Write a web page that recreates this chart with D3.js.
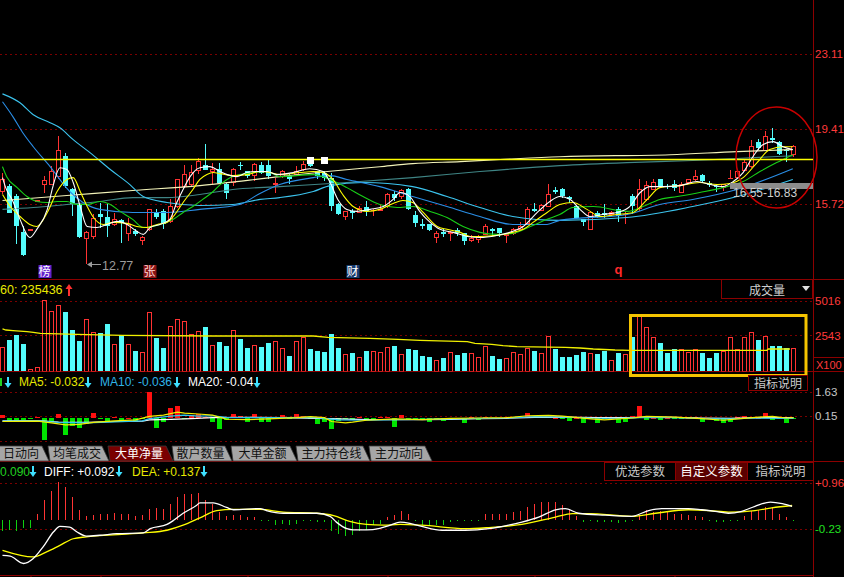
<!DOCTYPE html>
<html><head><meta charset="utf-8">
<script src="https://cdn.jsdelivr.net/npm/d3@7"></script>
<style>
html,body{margin:0;padding:0;background:#000;overflow:hidden}
svg{display:block}
text{font-family:"Liberation Sans",Arial,sans-serif}
.cjk{font-family:"Noto Sans CJK SC","Noto Sans",sans-serif}
</style></head><body>
<svg id="c" width="844" height="577"></svg>
<script>
// ---------------- DATA ----------------
const opens = [
16.37,16.61,16.12,14.36,14.47,15.89,16.73,16.73,17.10,18.08,
16.48,15.67,14.08,14.17,15.23,15.11,14.77,14.95,14.33,14.41,
13.97,14.49,15.31,15.39,14.90,15.63,16.61,16.70,17.43,17.63,
17.35,17.46,16.74,16.83,17.64,17.35,17.15,17.63,17.63,16.73,
17.10,17.10,17.19,17.46,17.79,17.35,17.27,17.02,15.72,15.14,
15.39,15.34,15.60,15.43,15.44,15.63,16.25,16.12,16.48,15.18,
14.74,14.74,14.13,14.36,14.30,14.44,14.30,13.95,14.00,14.25,
14.52,14.57,14.20,14.33,14.49,14.79,15.47,15.44,15.63,16.42,
16.48,16.07,15.63,14.98,14.52,15.31,15.31,15.23,15.50,15.22,
16.12,15.55,15.96,16.48,16.94,16.60,16.70,16.32,16.81,16.94,
17.14,16.78,16.60,16.58,17.01,17.07,17.43,17.59,18.77,18.38,
18.98,18.77,18.41,18.17];
const highs = [
17.27,16.70,16.21,14.65,14.52,15.93,17.10,17.59,19.06,18.25,
16.53,15.72,14.41,15.23,15.77,15.72,15.31,14.98,15.06,14.49,
14.17,15.50,15.47,15.47,15.96,16.97,17.67,17.67,18.00,18.70,
17.76,17.76,16.78,17.51,17.79,17.38,17.76,17.79,17.95,17.02,
17.43,17.19,17.59,17.84,17.84,17.35,17.35,17.27,15.77,15.39,
15.50,15.63,15.88,15.50,15.72,16.29,16.37,16.45,16.53,15.39,
14.98,14.74,14.41,14.49,14.41,14.57,14.30,14.20,14.20,14.74,
14.57,14.57,14.33,14.57,14.85,15.60,15.77,15.72,16.74,16.58,
16.53,16.12,15.67,14.98,15.39,15.39,15.72,15.39,15.60,15.39,
16.21,16.94,16.86,16.94,16.97,16.70,16.91,16.81,16.97,17.40,
17.19,16.86,16.70,16.70,17.43,17.43,17.92,18.90,18.93,19.31,
19.47,18.82,18.44,18.65];
const lows = [
16.21,15.27,13.76,13.18,14.45,15.88,16.29,16.70,16.94,16.53,
15.14,14.08,12.77,14.00,14.57,14.13,14.65,13.84,13.92,14.17,
13.72,14.41,15.01,14.52,14.82,15.55,16.53,16.61,17.19,17.40,
16.70,16.70,15.96,16.61,17.43,17.02,16.86,17.19,16.97,16.29,
17.02,16.70,17.10,17.35,17.56,16.97,16.86,15.39,15.18,14.95,
15.01,15.27,15.14,15.14,15.39,15.55,15.88,15.96,15.42,14.61,
14.49,14.41,13.84,14.13,13.92,14.17,13.72,13.89,13.84,14.20,
14.17,14.13,13.84,14.20,14.46,14.74,15.34,15.39,15.60,16.24,
16.04,15.80,15.01,14.65,14.49,15.06,15.06,15.14,14.85,14.74,
15.23,15.39,15.88,16.42,16.53,16.45,16.37,16.29,16.74,16.86,
16.81,16.58,16.32,16.37,16.94,17.02,17.35,17.51,18.41,18.33,
18.74,18.12,17.79,18.05];
const closes = [
16.97,15.31,14.65,13.22,14.49,15.91,16.91,17.35,18.41,16.61,
15.72,14.12,14.36,15.06,15.11,14.65,15.01,14.79,14.74,14.25,
14.12,15.47,15.11,14.74,15.63,16.94,17.19,17.30,17.84,17.43,
17.46,16.78,16.29,17.46,17.62,17.10,17.72,17.27,17.10,16.78,
17.35,16.94,17.35,17.72,17.59,17.10,17.02,15.63,15.23,15.39,
15.31,15.55,15.39,15.44,15.50,16.25,16.04,16.40,15.47,14.82,
14.65,14.46,14.33,14.25,14.36,14.33,13.92,14.08,14.13,14.65,
14.41,14.33,14.25,14.49,14.65,15.50,15.39,15.67,16.24,16.32,
16.12,15.96,15.06,14.85,15.34,15.11,15.18,15.34,15.14,15.23,
15.63,16.48,16.65,16.81,16.58,16.58,16.53,16.74,16.94,17.10,
16.86,16.65,16.58,16.70,17.02,17.35,17.79,18.57,18.49,19.10,
18.87,18.17,18.33,18.57];
// moving averages: [bar index, price]
const ma5 = [[0,17.03],[0.4,16.59],[1.5,15.86],[2.5,14.98],[3.9,14.09],[4.9,14.49],[6.4,15.47],[7.2,16.59],[8.2,17.52],[9.2,17.43],[10.1,16.79],[11.1,15.61],[12.1,14.63],[13.5,14.58],[14.9,14.73],[16.4,14.88],[17.8,14.73],[19.2,14.39],[20.1,14.24],[21.1,14.58],[22.5,14.73],[23.9,14.98],[24.9,15.81],[25.8,16.45],[26.8,17.08],[28.2,17.52],[29.6,17.57],[31.1,17.33],[32.1,17.18],[33.5,17.08],[34.9,17.28],[36.4,17.33],[37.8,17.33],[39.2,17.18],[41.5,17.28],[43.9,17.47],[45.8,17.33],[46.8,16.79],[47.9,15.96],[49.2,15.47],[50.6,15.37],[52.5,15.47],[54.4,15.61],[55.8,15.96],[56.8,16.30],[58.2,16.10],[59.6,15.37],[61.1,14.83],[62.5,14.49],[64.4,14.34],[66.4,14.14],[68.2,14.09],[70.6,14.19],[72.9,14.39],[74.4,14.63],[76.4,15.32],[78.2,15.86],[79.6,16.10],[81.1,15.96],[82.5,15.47],[83.9,15.12],[85.8,15.22],[87.8,15.32],[89.6,15.61],[91.1,16.30],[92.5,16.59],[94.4,16.59],[96.8,16.64],[99.2,16.84],[101.1,16.69],[102.9,16.59],[104.4,16.84],[105.8,17.28],[107.2,18.06],[108.6,18.65],[110.1,18.80],[111.5,18.55],[112.9,18.41]];
const ma10 = [[0,16.20],[1.1,15.61],[2.5,15.12],[3.9,14.73],[4.9,14.63],[6.4,15.32],[7.8,16.35],[9.2,16.94],[10.1,17.03],[11.1,16.35],[12.1,15.61],[12.9,15.12],[14.4,14.73],[15.8,14.83],[17.8,14.78],[19.2,14.63],[20.6,14.58],[22.1,14.73],[23.5,14.83],[24.4,15.12],[25.8,15.81],[27.2,16.45],[28.2,16.94],[29.2,17.18],[30.1,17.28],[31.1,17.23],[32.9,17.13],[34.9,17.18],[36.8,17.33],[38.2,17.28],[39.6,17.18],[42.5,17.28],[44.4,17.33],[45.8,17.28],[47.2,16.94],[48.6,16.20],[50.1,15.61],[52.1,15.37],[53.9,15.47],[55.8,15.76],[57.2,15.91],[58.6,15.81],[60.1,15.32],[62.1,14.63],[63.5,14.49],[65.4,14.34],[66.8,14.14],[68.2,14.14],[70.6,14.19],[72.9,14.34],[74.4,14.49],[75.8,14.83],[77.8,15.32],[79.6,15.71],[81.5,15.81],[83.5,15.47],[85.4,15.12],[87.8,15.22],[90.1,15.32],[92.1,15.96],[93.9,16.54],[96.8,16.64],[99.6,16.79],[102.1,16.69],[103.9,16.74],[105.8,17.03],[107.8,17.77],[109.6,18.41],[111.5,18.55],[112.9,18.55]];
const ma20 = [[0,17.57],[0.6,17.08],[2.1,16.54],[3.5,16.10],[4.9,15.86],[6.4,15.81],[7.8,15.86],[9.2,15.86],[10.6,15.71],[12.1,15.71],[13.9,15.86],[15.4,15.71],[16.8,15.37],[18.6,14.98],[20.1,14.58],[21.5,14.63],[22.9,14.78],[24.4,14.98],[25.8,15.32],[27.2,15.61],[28.6,15.96],[30.1,16.35],[31.1,16.69],[32.5,17.03],[33.9,17.18],[35.8,17.28],[37.8,17.33],[39.6,17.08],[44.4,17.18],[46.8,16.94],[49.2,16.54],[51.5,16.10],[53.9,15.71],[56.4,15.56],[58.6,15.61],[61.1,15.37],[63.5,15.07],[65.8,14.63],[68.2,14.34],[70.6,14.24],[72.9,14.29],[75.4,14.63],[77.8,14.98],[79.6,15.22],[81.5,15.56],[84.4,15.61],[89.2,15.37],[91.5,15.61],[93.9,15.96],[96.4,16.10],[99.6,16.30],[103.5,16.59],[105.8,16.84],[108.2,17.33],[110.6,17.77],[112.9,18.16]];
const ma30 = [[0,20.76],[1.5,20.02],[2.9,19.24],[4.4,18.55],[6.8,17.57],[9.6,16.35],[11.5,15.81],[13.9,15.47],[18.6,15.32],[23.5,15.32],[28.2,15.47],[33.9,15.71],[36.5,16.20],[39.6,16.69],[44.4,17.03],[46.8,17.13],[49.2,16.94],[53.9,16.59],[58.6,16.10],[63.5,15.61],[68.2,15.12],[72.9,14.73],[77.8,14.73],[79.6,14.93],[89.2,15.22],[93.9,15.71],[98.6,15.96],[104.9,16.45],[112.9,17.47]];
const ma60 = [[0,21.15],[2.5,20.71],[4.4,20.12],[6.8,19.73],[8.2,19.48],[10.1,18.90],[12.5,18.26],[15.4,17.43],[18.2,16.69],[20.1,16.10],[23.5,15.81],[28.2,15.66],[32.9,15.71],[36.8,15.96],[39.6,16.05],[44.4,16.35],[46.8,16.64],[51.5,16.79],[58.6,16.59],[63.5,16.10],[68.2,15.56],[72.9,15.12],[79.6,14.93],[89.2,15.07],[98.6,15.61],[104.4,16.05],[112.9,16.94]];
const ma120 = [[0,15.47],[4.4,15.56],[9.2,15.71],[13.9,15.86],[18.6,16.05],[23.5,16.05],[28.2,16.20],[32.9,16.45],[39.6,16.59],[49.2,16.79],[58.6,17.03],[68.2,17.33],[79.6,17.62],[89.2,17.77],[98.6,17.87],[104.9,17.97],[112.9,18.11]];
const ma250 = [[0,15.91],[9.2,16.15],[18.6,16.40],[28.2,16.64],[39.6,17.08],[46.4,17.33],[53.9,17.57],[58.6,17.72],[65.4,17.82],[71.1,17.92],[79.6,18.06],[95.4,18.16],[104.9,18.31],[112.9,18.41]];
const trendLevel = 17.92;
const priceTicks = [23.11, 19.41, 15.72];
const lowLabel = {i: 12, text: "12.77"};
const zoneLabel = "16.55-16.83";
const zoneRange = [16.55, 16.83];
const markers = [{i:6, t:"榜"}, {i:21, t:"张"}, {i:50, t:"财"}, {i:88, t:"q"}];
const whiteMarks = [[44, 17.92], [46, 17.92]];

// volume (x100)
const volumes = [
1737,2212,2569,1926,119,262,5040,4281,4686,4210,
2925,2141,3686,2759,2711,3330,1902,2545,1902,1427,
1332,4186,2355,1641,3187,3686,3544,2616,2830,3116,
1831,2045,1784,2902,2283,1641,1831,1712,1998,2117,
1617,1070,2117,2402,1570,1427,1356,2640,1641,1189,
1284,999,1427,1403,1356,1712,1784,1189,1570,1498,
1070,999,785,928,1356,1142,1284,1284,999,1784,
1070,856,928,1332,1213,1641,1427,1284,2497,1570,
999,999,1142,1356,1284,1213,1427,785,1284,1213,
2426,3996,3163,2402,1974,1284,1570,1570,1380,1570,
1284,928,1284,1427,2402,1570,2402,2759,2212,2497,
1784,1784,1641,1641];
const volMA = [[0,2997],[0.5,2925],[1.5,2878],[3.5,2806],[4.4,2759],[5.4,2688],[10.6,2616],[17.2,2545],[30,2497],[44.4,2497],[46.5,2402],[52.5,2331],[56.5,2259],[59.6,2188],[66.4,2093],[67.5,1974],[69.9,1903],[71.5,1808],[73.5,1736],[80.4,1689],[82.5,1641],[84.4,1570],[87.5,1498],[89.6,1475],[109.2,1475],[109.4,1570],[112.5,1570]];
const volTicks = [5016, 2543];
const volHeader = "60: 235436";

// 大单净量 indicator
const netBig = [
0.16,-0.20,-0.20,-0.14,-0.06,0.04,-1.41,-0.24,0.22,-1.05,
-0.48,-0.60,-0.40,0.34,-0.06,-0.24,0.04,-0.20,0.02,-0.20,
-0.06,1.63,-0.60,-0.28,0.64,0.76,-0.04,0.20,0.28,0.08,
-0.24,-0.68,-0.14,0.22,0.10,-0.28,0.22,-0.28,-0.28,-0.06,
0.16,-0.04,0.28,0.10,-0.04,-0.36,-0.28,-0.72,-0.20,-0.06,
-0.14,0.04,-0.12,-0.08,0.04,0.04,-0.54,0.16,-0.06,-0.06,
-0.10,-0.26,-0.04,-0.16,-0.14,-0.04,-0.30,0.08,-0.14,0.04,
-0.04,-0.04,0.04,0.08,0.04,0.34,0.04,0.06,0.06,0.02,
-0.04,-0.20,0.02,-0.30,-0.04,-0.30,-0.04,0.02,-0.30,-0.26,
0.10,0.74,-0.12,0.02,-0.12,0.02,-0.02,-0.02,0.02,0.08,
-0.26,0.02,-0.16,-0.30,-0.26,0.04,0.14,0.04,0.02,0.34,
-0.12,-0.04,-0.30,-0.04];
const netMA5 = [[0,-0.22],[5,-0.20],[7,-0.30],[9,-0.43],[11,-0.40],[13,-0.28],[16,-0.18],[19,-0.12],[21,0.10],[23,0.18],[25,0.37],[26,0.30],[28,0.25],[30,0.18],[32,-0.08],[35,-0.10],[38,-0.06],[42,0.02],[44,0.08],[46,0.02],[47,-0.22],[49,-0.30],[50,-0.26],[52,-0.14],[56,-0.06],[60,-0.10],[64,-0.02],[68,0.00],[72,0.02],[75,0.14],[78,0.16],[80,0.12],[84,-0.06],[86,-0.12],[90,0.00],[92,0.10],[96,0.06],[100,-0.04],[103,-0.14],[105,-0.06],[108,0.06],[110,0.10],[112,0.00],[113,0.02]];
const netMA10 = [[0,-0.20],[5,-0.18],[8,-0.28],[12,-0.30],[16,-0.24],[20,-0.18],[21,-0.04],[24,0.12],[26,0.18],[28,0.12],[30,0.14],[32,0.04],[36,0.02],[40,0.02],[44,0.04],[46,-0.02],[48,-0.12],[52,-0.14],[56,-0.10],[60,-0.08],[64,-0.06],[68,-0.02],[72,0.00],[76,0.08],[80,0.06],[84,0.00],[88,-0.02],[92,0.04],[96,0.02],[100,-0.04],[104,-0.06],[108,0.00],[112,-0.02],[113,-0.02]];
const netMA20 = [[0,-0.18],[5,-0.16],[8,-0.25],[12,-0.28],[16,-0.22],[20,-0.20],[21,-0.12],[24,-0.08],[27,-0.04],[30,0.02],[35,0.04],[40,0.02],[45,-0.02],[48,-0.06],[52,-0.10],[56,-0.10],[60,-0.10],[64,-0.08],[68,-0.04],[72,-0.02],[76,0.04],[80,0.06],[85,0.02],[90,0.02],[92,0.06],[96,0.04],[100,0.00],[104,-0.02],[108,0.02],[112,0.02],[113,0.02]];
const indTicks = [1.63, 0.15];
const indHeader = [["MA5: -0.032","#e8e800"],["MA10: -0.036","#2fb4e8"],["MA20: -0.04","#ffffff"]];

// MACD
const macdHist = [
-0.28,-0.26,-0.28,-0.22,-0.22,0.16,0.51,0.75,0.97,0.85,
0.58,0.25,0.10,0.13,0.16,0.15,0.17,0.16,0.15,0.10,
0.13,0.28,0.30,0.28,0.41,0.58,0.68,0.66,0.69,0.51,
0.42,0.19,0.10,0.13,0.12,0.06,0.08,-0.01,-0.04,-0.13,
-0.10,-0.13,-0.10,-0.03,-0.02,-0.05,-0.06,-0.28,-0.36,-0.42,
-0.40,-0.28,-0.26,-0.14,-0.12,0.08,0.13,0.22,0.15,-0.02,
-0.13,-0.15,-0.13,-0.13,-0.05,-0.03,-0.02,-0.02,-0.02,0.16,
0.16,0.16,0.16,0.19,0.23,0.34,0.41,0.45,0.45,0.45,
0.39,0.25,0.10,-0.05,-0.03,-0.06,-0.05,-0.05,-0.07,-0.05,
-0.02,0.13,0.25,0.19,0.23,0.19,0.16,0.15,0.13,0.10,
0.08,-0.02,-0.05,-0.06,-0.02,-0.01,0.10,0.23,0.25,0.32,
0.32,0.16,0.06,-0.02];
const diff = [[0,-0.92],[1.1,-0.94],[3.0,-1.13],[4.4,-1.00],[5.8,-0.70],[7.3,-0.31],[8.2,-0.17],[9.6,-0.19],[10.6,-0.31],[12.0,-0.42],[13.9,-0.40],[16.3,-0.36],[20.1,-0.34],[21.1,-0.23],[23.5,-0.12],[24.4,-0.02],[25.8,0.17],[27.7,0.37],[28.2,0.44],[30.1,0.44],[32.0,0.32],[33.0,0.26],[36.8,0.29],[37.7,0.24],[40.1,0.17],[44.9,0.17],[46.8,0.09],[47.7,-0.06],[49.2,-0.23],[50.1,-0.26],[52.0,-0.26],[53.9,-0.22],[55.4,-0.14],[56.8,-0.06],[58.2,-0.09],[59.9,-0.17],[62.8,-0.27],[66.1,-0.27],[69.5,-0.23],[72.3,-0.14],[74.2,-0.06],[76.6,0.07],[79,0.26],[80.4,0.29],[82.3,0.17],[86.1,0.12],[89.9,0.09],[92.3,0.24],[94.2,0.29],[98,0.29],[99.9,0.26],[101.8,0.22],[103.7,0.17],[105.6,0.22],[107.5,0.35],[109.7,0.46],[111.4,0.42],[112.8,0.35]];
const dea = [[0,-0.79],[4.4,-0.96],[6.3,-0.83],[8.2,-0.66],[10.1,-0.49],[12.0,-0.44],[20.1,-0.34],[23.5,-0.27],[25.8,-0.14],[28.2,0.05],[30.6,0.24],[33.0,0.27],[36.8,0.27],[40.1,0.20],[44.9,0.17],[47.3,0.11],[49.6,-0.04],[52.0,-0.12],[54.4,-0.14],[56.8,-0.12],[59.9,-0.14],[66.1,-0.23],[69.5,-0.20],[74.2,-0.12],[79,0.07],[81.4,0.16],[83.7,0.16],[89.9,0.09],[93.3,0.17],[98,0.26],[100.9,0.24],[103.7,0.20],[107.5,0.24],[109.9,0.31],[112.8,0.37]];
const macdTicks = [0.96, -0.23];
const macdHeader = [["0.090","#20d020"],["DIFF: +0.092","#ffffff"],["DEA: +0.137","#e8e800"]];
const dateTickIdx = [4, 14, 35, 55, 76, 96];

const tabNames = ["日动向","均笔成交","大单净量","散户数量","大单金额","主力持仓线","主力动向"];
const activeTab = "大单净量";
const macdButtons = ["优选参数","自定义参数","指标说明"];

// ---------------- LAYOUT ----------------
const AX = 813;
const RED = "#ff3232", CYAN = "#54fcfc", FRAME = "#8c0000", GRID = "#7a0000";
const N = closes.length;
const svg = d3.select("#c");
const defs = svg.append("defs");
function clip(id,x,y,w,h){defs.append("clipPath").attr("id",id).append("rect").attr("x",x).attr("y",y).attr("width",w).attr("height",h);}
clip("cp",0,0,AX,279); clip("cv",0,280,AX,91.5); clip("ci",0,387,AX,55); clip("cm",0,481,AX,94);

svg.append("rect").attr("width",844).attr("height",577).attr("fill","#000");

const xIdx = d3.scaleLinear().domain([0, N-1]).range([2.5, 2.5 + 7*(N-1)]);
const yP = d3.scaleLinear().domain([15.72, 23.11]).range([204.3, 54]);
const yV = d3.scaleLinear().domain([0, 5016]).range([371, 300.7]);
const yI = d3.scaleLinear().domain([0, 1.63]).range([418, 392]);
const yM = d3.scaleLinear().domain([-0.23, 0.96]).range([528.7, 482.7]);

function hline(y, x1, x2, color, dash, w){
  svg.append("line").attr("x1",x1).attr("x2",x2).attr("y1",y).attr("y2",y)
    .attr("stroke",color).attr("stroke-width",w||1).attr("stroke-dasharray",dash||null)
    .attr("shape-rendering","crispEdges");
}
const px = v => Math.round(v) + 0.5;

priceTicks.forEach(t => hline(px(yP(t)), 0, AX, GRID, "2,3"));
volTicks.forEach(t => hline(px(yV(t)), 0, AX, GRID, "2,3"));
indTicks.forEach(t => hline(px(yI(t)), 0, AX, GRID, "2,3"));
macdTicks.forEach(t => hline(px(yM(t)), 0, AX, GRID, "2,3"));
hline(441.5, 0, AX, GRID, "2,3");

hline(279.5, 0, 844, FRAME);
hline(371.5, 0, AX, FRAME);
hline(461.5, 0, 844, FRAME);
hline(575.5, 0, AX, FRAME);
svg.append("line").attr("x1",AX+0.5).attr("x2",AX+0.5).attr("y1",0).attr("y2",577)
  .attr("stroke",FRAME).attr("shape-rendering","crispEdges");

// ---------------- PRICE PANEL ----------------
const gP = svg.append("g").attr("clip-path","url(#cp)");
const lineP = d3.line().x(d => xIdx(d[0])).y(d => yP(d[1])).curve(d3.curveMonotoneX);

const isUp = i => closes[i] >= opens[i];
const gCandle = gP.append("g").attr("shape-rendering","crispEdges");
d3.range(N).forEach(i => {
  const cx = Math.floor(xIdx(i)) + 0.5, x0 = cx - 2.5;
  const yh = Math.round(yP(highs[i])), yl = Math.round(yP(lows[i]));
  const top = Math.round(yP(Math.max(opens[i], closes[i])));
  const bot = Math.round(yP(Math.min(opens[i], closes[i])));
  if (isUp(i)) {
    if (bot - top < 1) {
      gCandle.append("line").attr("x1",cx).attr("x2",cx).attr("y1",yh).attr("y2",yl).attr("stroke",RED);
      gCandle.append("line").attr("x1",x0).attr("x2",x0+5).attr("y1",top+0.5).attr("y2",top+0.5).attr("stroke",RED);
    } else {
      gCandle.append("line").attr("x1",cx).attr("x2",cx).attr("y1",yh).attr("y2",top).attr("stroke",RED);
      gCandle.append("line").attr("x1",cx).attr("x2",cx).attr("y1",bot).attr("y2",yl).attr("stroke",RED);
      gCandle.append("rect").attr("x",x0+0.5).attr("y",top+0.5).attr("width",4).attr("height",bot-top)
        .attr("fill","#000").attr("stroke",RED);
    }
  } else {
    gCandle.append("line").attr("x1",cx).attr("x2",cx).attr("y1",yh).attr("y2",yl).attr("stroke",CYAN);
    gCandle.append("rect").attr("x",x0).attr("y",top).attr("width",5).attr("height",Math.max(1,bot-top)).attr("fill",CYAN);
  }
});

[[ma250,"#f2f2b8"],[ma120,"#3f8585"],[ma60,"#3cc4ee"],[ma30,"#2a8ee6"],[ma20,"#18d018"],[ma10,"#ffff00"],[ma5,"#ffffff"]]
  .forEach(([d,c]) => gP.append("path").datum(d).attr("d",lineP).attr("fill","none").attr("stroke",c).attr("stroke-width",1.1));
gP.append("line").attr("x1",0).attr("x2",AX).attr("y1",yP(trendLevel)).attr("y2",yP(trendLevel))
  .attr("stroke","#ffff00").attr("stroke-width",1.4);

whiteMarks.forEach(([i,p]) => {
  gP.append("rect").attr("x",Math.floor(xIdx(i))-3).attr("y",Math.round(yP(p))-3)
    .attr("width",7).attr("height",7).attr("fill","#fff");
});

gP.append("rect").attr("x",730).attr("y",Math.round(yP(zoneRange[1]))+1).attr("width",AX-730).attr("height",6).attr("fill","#8c8c8c");
svg.append("text").attr("x",733).attr("y",197).attr("font-size",12).attr("fill","#cfcfcf").text(zoneLabel);

svg.append("ellipse").attr("cx",776.5).attr("cy",157.5).attr("rx",40.5).attr("ry",50.5)
  .attr("fill","none").attr("stroke","#c80000").attr("stroke-width",1.5);

{
  const lx = Math.floor(xIdx(lowLabel.i)) + 1, ly = Math.round(yP(lows[lowLabel.i])) + 0.5;
  svg.append("line").attr("x1",lx+2).attr("x2",lx+14).attr("y1",ly).attr("y2",ly).attr("stroke","#9a9a9a");
  svg.append("path").attr("d",`M${lx},${ly} L${lx+5},${ly-3} L${lx+5},${ly+3} Z`).attr("fill","#9a9a9a");
  svg.append("text").attr("x",lx+15).attr("y",ly+5).attr("font-size",12.5).attr("fill","#9c9c9c").text(lowLabel.text);
}

const markerStyle = {"榜":["#6322cc","#fff"],"张":["#8a1414","#ffd6d6"],"财":["#163a6e","#ffffff"]};
markers.forEach(m => {
  const cx = xIdx(m.i);
  if (m.t === "q") {
    svg.append("text").attr("x",cx).attr("y",274).attr("text-anchor","middle").attr("font-size",13)
      .attr("font-weight","bold").attr("fill","#ff2a2a").text(m.t);
  } else {
    const st = markerStyle[m.t];
    svg.append("rect").attr("x",Math.round(cx)-6.5).attr("y",265).attr("width",13).attr("height",13).attr("fill",st[0]);
    svg.append("text").attr("class","cjk").attr("x",cx).attr("y",276).attr("text-anchor","middle")
      .attr("font-size",12).attr("fill",st[1]).text(m.t);
  }
});

const axisStyle = (g, color) => {
  g.select(".domain").remove();
  g.selectAll(".tick line").remove();
  g.selectAll(".tick text").attr("fill", color).attr("font-size", 11.5).attr("font-family","Liberation Sans, Arial, sans-serif");
};
svg.append("g").attr("transform",`translate(${AX},0)`)
  .call(d3.axisRight(yP).tickValues(priceTicks).tickSize(0).tickPadding(2).tickFormat(d3.format(".2f")))
  .call(g => axisStyle(g, "#ff3a3a"));

// ---------------- VOLUME PANEL ----------------
const gV = svg.append("g").attr("clip-path","url(#cv)").attr("shape-rendering","crispEdges");
volumes.forEach((v,i) => {
  const x0 = Math.floor(xIdx(i)) - 2;
  const yt = Math.round(yV(v));
  if (isUp(i)) {
    gV.append("rect").attr("x",x0+0.5).attr("y",yt+0.5).attr("width",4).attr("height",371-yt).attr("fill","none").attr("stroke",RED);
  } else {
    gV.append("rect").attr("x",x0).attr("y",yt).attr("width",5).attr("height",371-yt).attr("fill",CYAN);
  }
});
gV.append("path").datum(volMA).attr("d", d3.line().x(d=>xIdx(d[0])).y(d=>yV(d[1])))
  .attr("fill","none").attr("stroke","#f0f000").attr("stroke-width",1.3).attr("shape-rendering","auto");

svg.append("g").attr("transform",`translate(${AX},0)`)
  .call(d3.axisRight(yV).tickValues(volTicks).tickSize(0).tickPadding(2).tickFormat(d3.format("d")))
  .call(g => axisStyle(g, "#ff3a3a"));

svg.append("text").attr("x",0).attr("y",294).attr("font-size",12.5).attr("fill","#e8e800").text(volHeader);

function arrow(x, y1, y2, color){
  const dir = y2 > y1 ? 1 : -1;
  svg.append("rect").attr("x",x-1).attr("y",Math.min(y1, y2 - dir*4)).attr("width",2)
    .attr("height",Math.abs(y2 - y1) - 3).attr("fill",color);
  svg.append("path").attr("d",`M${x-3.5},${y2-dir*5} L${x+3.5},${y2-dir*5} L${x},${y2} Z`).attr("fill",color);
}
arrow(69, 295, 284, "#ff3030");

svg.append("rect").attr("x",721.5).attr("y",279.5).attr("width",91).attr("height",19).attr("fill","none").attr("stroke",FRAME);
svg.append("text").attr("class","cjk").attr("x",749).attr("y",295).attr("font-size",12).attr("fill","#d0d0d0").text("成交量");
svg.append("path").attr("d","M802,286 L810,286 L806,291 Z").attr("fill","#e0e0e0");
svg.append("rect").attr("x",813.5).attr("y",357.5).attr("width",32).attr("height",14).attr("fill","none").attr("stroke",FRAME);
svg.append("text").attr("x",816).attr("y",369).attr("font-size",11).attr("fill","#ff3a3a").text("X100");

svg.append("rect").attr("x",630.5).attr("y",315.5).attr("width",175.5).attr("height",60).attr("fill","none")
  .attr("stroke","#f5c400").attr("stroke-width",3);

svg.append("rect").attr("x",748.5).attr("y",375.5).attr("width",59).attr("height",15).attr("fill","#000").attr("stroke",FRAME);
svg.append("text").attr("class","cjk").attr("x",778).attr("y",388).attr("text-anchor","middle").attr("font-size",12).attr("fill","#cccccc").text("指标说明");

// ---------------- INDICATOR PANEL ----------------
{
  svg.append("rect").attr("x",0).attr("y",378).attr("width",2).attr("height",8).attr("fill","#20d020");
  arrow(8, 377, 388, "#3ee0ff");
  const xs = [19, 100, 188];
  const arrowsX = [88, 177, 257];
  indHeader.forEach((h,k) => {
    svg.append("text").attr("x",xs[k]).attr("y",386).attr("font-size",12).attr("fill",h[1]).text(h[0]);
    arrow(arrowsX[k], 377, 388, "#3ee0ff");
  });
}
const gI = svg.append("g").attr("clip-path","url(#ci)");
netBig.forEach((v,i) => {
  const x0 = Math.floor(xIdx(i)) - 2;
  const y0 = Math.round(yI(0)), y1 = Math.round(yI(v));
  gI.append("rect").attr("x",x0).attr("y",Math.min(y0,y1)).attr("width",5).attr("height",Math.max(1,Math.abs(y1-y0)))
    .attr("fill", v >= 0 ? "#ff1010" : "#00e400").attr("shape-rendering","crispEdges");
});
const lineI = d3.line().x(d=>xIdx(d[0])).y(d=>yI(d[1]));
[[netMA20,"#ffffff"],[netMA10,"#30c8f0"],[netMA5,"#f0f000"]].forEach(([d,c]) =>
  gI.append("path").datum(d).attr("d",lineI).attr("fill","none").attr("stroke",c).attr("stroke-width",1.2));
svg.append("g").attr("transform",`translate(${AX},0)`)
  .call(d3.axisRight(yI).tickValues(indTicks).tickSize(0).tickPadding(2).tickFormat(d3.format(".2f")))
  .call(g => axisStyle(g, "#c8c8c8"));

// ---------------- TABS ----------------
{
  const edges = [-12, 48, 108, 172, 231, 296, 369, 431];
  tabNames.forEach((name,k) => {
    const a = edges[k], b = edges[k+1];
    const active = name === activeTab;
    svg.append("path").attr("d",`M${a},446 L${b-6},446 L${b+1},461 L${a+2},461 Z`)
      .attr("fill", active ? "#7a0000" : "#a6a6a6").attr("stroke","#3a3a3a").attr("stroke-width",0.8);
    const cx = k === 0 ? 21 : (a+b)/2 - 1;
    svg.append("text").attr("class","cjk").attr("x",cx).attr("y",458).attr("text-anchor","middle")
      .attr("font-size",12).attr("fill", active ? "#ffffff" : "#111").text(name);
  });
}

// ---------------- MACD PANEL ----------------
{
  const xs = [0, 44, 132];
  const ax = [33, 119, 204];
  macdHeader.forEach((h,k) => {
    svg.append("text").attr("x",xs[k]).attr("y",476).attr("font-size",12).attr("fill",h[1]).text(h[0]);
    arrow(ax[k], 466, 477, "#3ee0ff");
  });
}
{
  const bx = [604, 675, 747, 813];
  macdButtons.forEach((b,k) => {
    const active = k === 1;
    svg.append("rect").attr("x",bx[k]+0.5).attr("y",462.5).attr("width",bx[k+1]-bx[k]).attr("height",18)
      .attr("fill", active ? "#5a0000" : "#000").attr("stroke",FRAME);
    svg.append("text").attr("class","cjk").attr("x",(bx[k]+bx[k+1])/2+0.5).attr("y",476).attr("text-anchor","middle")
      .attr("font-size",12.5).attr("fill", active ? "#ffffff" : "#c8c8c8").text(b);
  });
}
const gM = svg.append("g").attr("clip-path","url(#cm)");
macdHist.forEach((v,i) => {
  const cx = Math.floor(xIdx(i)) + 0.5;
  const y0 = Math.round(yM(0)), y1 = Math.round(yM(v));
  gM.append("line").attr("x1",cx).attr("x2",cx).attr("y1",y0).attr("y2", y1 === y0 ? y0 + (v>=0?-1:1) : y1)
    .attr("stroke", v >= 0 ? "#ff3434" : "#10d010").attr("shape-rendering","crispEdges");
});
const lineM = d3.line().x(d=>xIdx(d[0])).y(d=>yM(d[1])).curve(d3.curveMonotoneX);
gM.append("path").datum(dea).attr("d",lineM).attr("fill","none").attr("stroke","#ffff00").attr("stroke-width",1.3);
gM.append("path").datum(diff).attr("d",lineM).attr("fill","none").attr("stroke","#ffffff").attr("stroke-width",1.3);

svg.append("g").attr("transform",`translate(${AX},0)`)
  .call(d3.axisRight(yM).tickValues(macdTicks).tickSize(0).tickPadding(2).tickFormat(d => (d>0?"+":"") + d.toFixed(2)))
  .call(g => { axisStyle(g, "#ff3a3a"); g.selectAll(".tick text").attr("fill", d => d > 0 ? "#ff3a3a" : "#20e020"); });

svg.append("g").attr("transform","translate(0,575)")
  .call(d3.axisBottom(xIdx).tickValues(dateTickIdx).tickSize(3).tickFormat(""))
  .call(g => { g.select(".domain").remove(); g.selectAll(".tick line").attr("stroke",FRAME); });
</script>
</body></html>
